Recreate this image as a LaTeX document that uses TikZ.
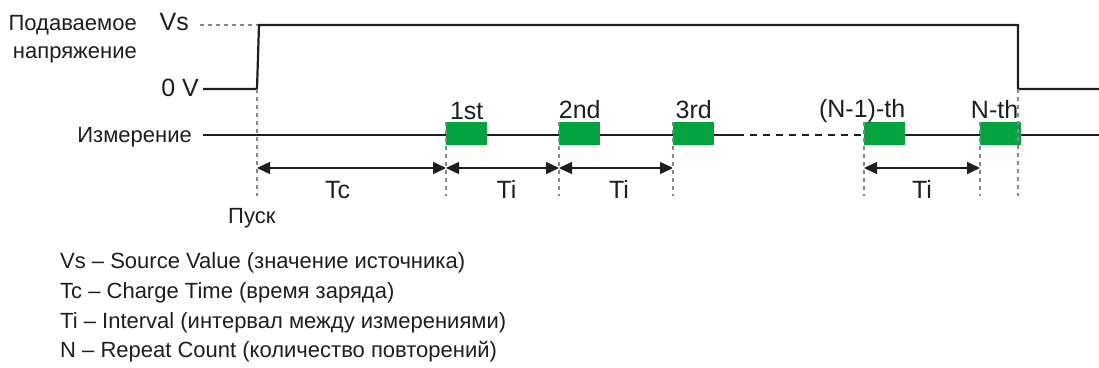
\documentclass[tikz,border=0pt]{standalone}
\usepackage{fontspec}
\setmainfont{Liberation Sans}
\usepackage{tikz}
\usetikzlibrary{arrows.meta,positioning,calc}
\usepackage{xcolor}
\definecolor{sigdark}{RGB}{30,30,30}
\definecolor{measgreen}{RGB}{0,163,62}
\definecolor{guidegray}{RGB}{135,135,135}

\tikzset{
  lbl/.style={font=\fontsize{22}{30}\selectfont, text=sigdark, inner sep=0pt},
  lblbig/.style={font=\fontsize{25}{30}\selectfont, text=sigdark, inner sep=0pt},
  sigline/.style={draw=sigdark, line width=2.2pt},
  measline/.style={draw=sigdark, line width=2pt},
  measbox/.style={fill=measgreen, minimum width=41pt, minimum height=23pt, inner sep=0pt, anchor=north west},
  guide/.style={draw=guidegray, line width=1.6pt, dash pattern=on 4pt off 4pt},
  span/.style={draw=sigdark, line width=1.4pt, {Triangle[length=13pt,width=12pt]}-{Triangle[length=13pt,width=12pt]}},
}

\begin{document}
\begin{tikzpicture}[x=1pt,y=-1pt]
\useasboundingbox (0,0) rectangle (1099,367);

\node[lbl, anchor=base east] (supply1) at (137,30) {Подаваемое};
\node[lbl, anchor=base east] (supply2) at (137,58) {напряжение};
\node[lblbig, anchor=base east] (vs) at (189,30) {Vs};
\node[lblbig, anchor=base east] (zero) at (199,96) {0 V};
\node[lbl, anchor=base east] (measlbl) at (192,142) {Измерение};
\node[lbl, anchor=base west] (start) at (228,223) {Пуск};

\coordinate (vsref) at (200,25);
\coordinate (lo0) at (203,89);
\coordinate (up0) at (257,89);
\coordinate (up1) at (259,25);
\coordinate (dn0) at (1018,25);
\coordinate (dn1) at (1018,89);
\coordinate (lo1) at (1099,89);
\coordinate (guidebot) at (0,196);
\coordinate (arrowy) at (0,168);

\draw[guide] (vsref) -- (up1);
\draw[sigline] (lo0) -- (up0) -- (up1) -- (dn0) -- (dn1) -- (lo1);

\coordinate (measbeg) at (203,135);
\coordinate (dotsbeg) at (737,135);
\coordinate (dotsend) at (864,135);
\coordinate (measend) at (1099,135);
\draw[measline] (measbeg) -- (dotsbeg);
\draw[measline, dash pattern=on 7pt off 6pt] (dotsbeg) -- (dotsend);
\draw[measline] (dotsend) -- (measend);

\foreach \n/\x in {m1/446, m2/559, m3/673, mn1/864, mn/980}
  \node[measbox] (\n) at (\x,122) {};

\node[lblbig, anchor=base] (m1lbl) at ([yshift=3pt]m1.north) {1st};
\node[lblbig, anchor=base] (m2lbl) at ([yshift=4pt]m2.north) {2nd};
\node[lblbig, anchor=base] (m3lbl) at ([yshift=4pt]m3.north) {3rd};
\node[lblbig, anchor=base east] (mn1lbl) at ([yshift=5pt]mn1.north east) {(N-1)-th};
\node[lblbig, anchor=base east] (mnlbl) at ([xshift=-3pt,yshift=4pt]mn.north east) {N-th};

\draw[guide] (up0) -- (up0 |- guidebot);
\foreach \n in {m1,m2,m3,mn1,mn}
  \draw[guide] (\n.north west) -- (\n.north west |- guidebot);
\draw[guide] (dn1) -- (dn1 |- guidebot);

\draw[span] (up0 |- arrowy) -- (m1.west |- arrowy)
  node[lblbig, midway, anchor=base, xshift=-14pt, yshift=-30pt] (tc) {Tc};
\draw[span] (m1.west |- arrowy) -- (m2.west |- arrowy)
  node[lblbig, midway, anchor=base, xshift=4pt, yshift=-30pt] (ti1) {Ti};
\draw[span] (m2.west |- arrowy) -- (m3.west |- arrowy)
  node[lblbig, midway, anchor=base, xshift=3pt, yshift=-30pt] (ti2) {Ti};
\draw[span] (mn1.west |- arrowy) -- (mn.west |- arrowy)
  node[lblbig, midway, anchor=base, yshift=-30pt] (ti3) {Ti};

\node[lbl, anchor=base west] (leg1) at (60,268) {Vs – Source Value (значение источника)};
\node[lbl, anchor=base west] (leg2) at (60,298) {Tc – Charge Time (время заряда)};
\node[lbl, anchor=base west] (leg3) at (60,328) {Ti – Interval (интервал между измерениями)};
\node[lbl, anchor=base west] (leg4) at (60,357) {N – Repeat Count (количество повторений)};
\end{tikzpicture}
\end{document}
